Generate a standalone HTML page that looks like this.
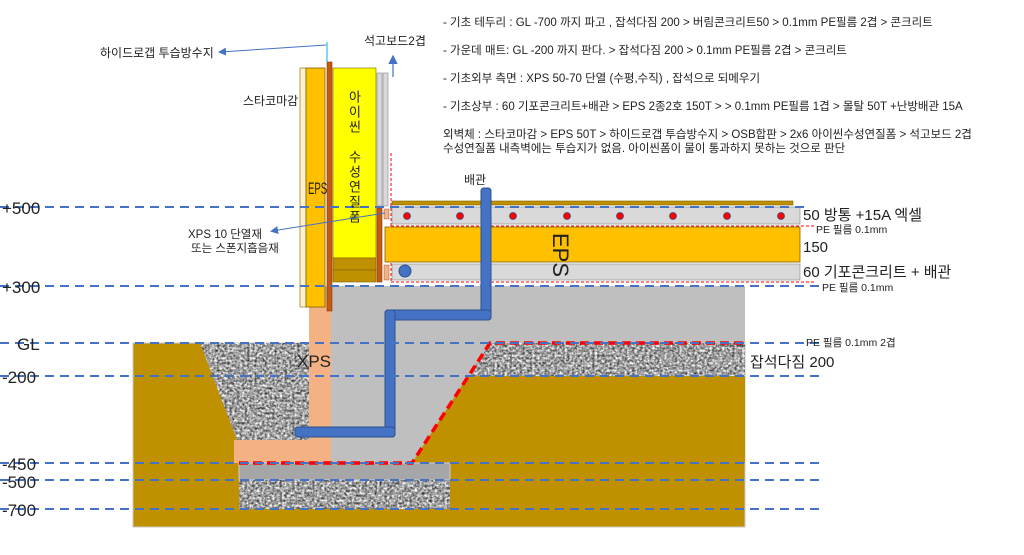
<!DOCTYPE html>
<html><head><meta charset="utf-8"><style>
html,body{margin:0;padding:0;background:#fff;width:1024px;height:555px;overflow:hidden}
text{font-family:"Liberation Sans","Noto Sans CJK KR",sans-serif;fill:#222}
</style></head><body>
<svg width="1024" height="555" viewBox="0 0 1024 555" xmlns="http://www.w3.org/2000/svg">
<defs>
<filter id="grv" x="0" y="0" width="100%" height="100%" color-interpolation-filters="sRGB">
<feTurbulence type="fractalNoise" baseFrequency="0.4" numOctaves="3" seed="3" result="n"/>
<feColorMatrix in="n" type="saturate" values="0" result="g"/>
<feComponentTransfer in="g" result="c">
<feFuncR type="linear" slope="1.7" intercept="-0.22"/>
<feFuncG type="linear" slope="1.7" intercept="-0.22"/>
<feFuncB type="linear" slope="1.7" intercept="-0.22"/>
<feFuncA type="linear" slope="0" intercept="1"/>
</feComponentTransfer>
<feComposite in="c" in2="SourceGraphic" operator="in"/>
</filter>
<marker id="ar" markerWidth="8" markerHeight="8" refX="6" refY="4" orient="auto"><path d="M0,0 L8,4 L0,8 z" fill="#4472c4"/></marker>
</defs>

<rect x="133" y="343" width="612" height="184" fill="#bf9000" stroke="#c9c9c9"/>
<rect x="320" y="286" width="425" height="177" fill="#bfbfbf"/>
<polygon points="468,376 745,376 745,463 412,463" fill="#bf9000"/>
<polygon points="490,343 745,343 745,376 468,376" fill="#fff" filter="url(#grv)"/>
<polygon points="200,343 309,343 309,440 237,440" fill="#fff" filter="url(#grv)"/>
<rect x="309" y="300" width="22" height="163" fill="#f4b183"/>
<rect x="234" y="440" width="76" height="23" fill="#f4b183"/>
<rect x="239" y="463" width="211" height="17" fill="#a6a6a6" stroke="#ccc"/>
<rect x="239" y="480" width="211" height="29" fill="#fff" filter="url(#grv)"/>
<polyline points="239,463 412,463 490,343 745,343" fill="none" stroke="#ff0000" stroke-width="3.5" stroke-dasharray="9,5"/>

<g fill="#4472c4" stroke="#2f528f" stroke-width="1">
<rect x="481" y="188" width="10" height="132" rx="3"/>
<rect x="385" y="310" width="106" height="10" rx="3"/>
<rect x="385" y="310" width="10" height="127" rx="3"/>
<rect x="295" y="427" width="100" height="10" rx="3"/>
</g>

<rect x="300" y="68" width="6" height="239" fill="#fff2cc" stroke="#7f6000" stroke-width="0.6"/>
<rect x="306" y="68" width="19" height="239" fill="#ffc000" stroke="#7f6000" stroke-width="0.8"/>
<rect x="327" y="62" width="5" height="249" fill="#c55a11" stroke="#843c0c" stroke-width="0.6"/>
<line x1="327" y1="42" x2="327" y2="62" stroke="#00b0f0" stroke-width="1"/>
<rect x="333" y="68" width="43" height="190" fill="#ffff00" stroke="#7f6000" stroke-width="0.6"/>
<rect x="333" y="258" width="43" height="12" fill="#bf9000" stroke="#7f6000" stroke-width="0.6"/>
<rect x="333" y="270" width="43" height="12" fill="#bf9000" stroke="#7f6000" stroke-width="0.6"/>
<rect x="377" y="73" width="5" height="133" fill="#d9d9d9" stroke="#888" stroke-width="0.6"/>
<rect x="383" y="73" width="5" height="133" fill="#d9d9d9" stroke="#888" stroke-width="0.6"/>
<rect x="377" y="208" width="5" height="74" fill="#c55a11" stroke="#843c0c" stroke-width="0.6"/>
<rect x="384" y="209" width="5" height="10" fill="#f4b183" stroke="#843c0c" stroke-width="0.4"/>
<rect x="384" y="265" width="5" height="15" fill="#f4b183" stroke="#843c0c" stroke-width="0.4"/>
<line x1="391" y1="153" x2="391" y2="282" stroke="#ff0000" stroke-width="1" stroke-dasharray="3,2"/>

<rect x="392" y="201" width="401" height="4" fill="#bf9000" stroke="#7f6000" stroke-width="0.6"/>
<rect x="392" y="207" width="408" height="17" fill="#d9d9d9" stroke="#888" stroke-width="0.6"/>
<g fill="#ff0000" stroke="#2f528f" stroke-width="0.8">
<circle cx="407" cy="216" r="3.5"/><circle cx="460" cy="216" r="3.5"/><circle cx="513" cy="216" r="3.5"/><circle cx="567" cy="216" r="3.5"/><circle cx="620" cy="216" r="3.5"/><circle cx="673" cy="216" r="3.5"/><circle cx="727" cy="216" r="3.5"/><circle cx="781" cy="216" r="3.5"/>
</g>
<line x1="391" y1="226" x2="815" y2="226" stroke="#ff0000" stroke-width="1" stroke-dasharray="3,2"/>
<rect x="385" y="227" width="415" height="35" fill="#ffc000" stroke="#7f6000" stroke-width="0.8"/>
<rect x="392" y="264" width="408" height="16" fill="#d9d9d9" stroke="#888" stroke-width="0.6"/>
<circle cx="405" cy="271" r="6" fill="#4472c4" stroke="#2f528f"/>
<line x1="391" y1="282" x2="815" y2="282" stroke="#ff0000" stroke-width="1" stroke-dasharray="3,2"/>
<rect x="481" y="188" width="10" height="98" rx="3" fill="#4472c4" stroke="#2f528f"/>

<g stroke="#4472c4" stroke-width="2" stroke-dasharray="9,6" fill="none">
<line x1="0" y1="207" x2="805" y2="207"/>
<line x1="0" y1="286" x2="820" y2="286"/>
<line x1="0" y1="343" x2="820" y2="343"/>
<line x1="0" y1="376" x2="820" y2="376"/>
<line x1="0" y1="463" x2="820" y2="463"/>
<line x1="0" y1="480" x2="820" y2="480"/>
<line x1="0" y1="509" x2="820" y2="509"/>
</g>

<g font-size="17">
<text x="2" y="214">+500</text>
<text x="2" y="293">+300</text>
<text x="17" y="350">GL</text>
<text x="2" y="383">-200</text>
<text x="2" y="470">-450</text>
<text x="2" y="488">-500</text>
<text x="2" y="516">-700</text>
</g>

<line x1="326" y1="45" x2="220" y2="52" stroke="#4472c4" stroke-width="1" marker-end="url(#ar)"/>
<text x="100" y="57" font-size="12">하이드로갭 투습방수지</text>
<text x="364" y="45" font-size="12">석고보드2겹</text>
<line x1="393" y1="77" x2="393" y2="57" stroke="#4472c4" stroke-width="1.2" marker-end="url(#ar)"/>
<text x="243" y="105" font-size="12">스타코마감</text>
<text x="308" y="194" font-size="12" transform="translate(308,194) scale(0.8,1.4) translate(-308,-194)">EPS</text>
<text font-size="13" x="354" y="90" style="writing-mode:vertical-rl" letter-spacing="2">아이씬</text>
<text font-size="13" x="354" y="150" style="writing-mode:vertical-rl" letter-spacing="2">수성연질폼</text>
<line x1="385" y1="213" x2="272" y2="231" stroke="#4472c4" stroke-width="1" marker-end="url(#ar)"/>
<text x="188" y="238" font-size="11.5">XPS 10 단열재</text>
<text x="191" y="252" font-size="11.5">또는 스폰지흡음재</text>
<text x="464" y="184" font-size="12">배관</text>
<text x="0" y="0" font-size="22" transform="translate(553,233) rotate(90)" fill="#333">EPS</text>
<text x="297" y="367" font-size="17" fill="#111">XPS</text>

<text x="803" y="220" font-size="15">50 방통 +15A 엑셀</text>
<text x="816" y="233" font-size="10.5">PE 필름 0.1mm</text>
<text x="803" y="252" font-size="15">150</text>
<text x="803" y="277" font-size="15">60 기포콘크리트 + 배관</text>
<text x="822" y="291" font-size="10.5">PE 필름 0.1mm</text>
<text x="806" y="346" font-size="10.5">PE 필름 0.1mm 2겹</text>
<text x="750" y="367" font-size="15">잡석다짐 200</text>

<g font-size="11.5">
<text x="443" y="26">- 기초 테두리 : GL -700 까지 파고 , 잡석다짐 200 &gt; 버림콘크리트50 &gt; 0.1mm PE필름 2겹 &gt; 콘크리트</text>
<text x="443" y="54">- 가운데 매트: GL -200 까지 판다. &gt; 잡석다짐 200 &gt; 0.1mm PE필름 2겹 &gt; 콘크리트</text>
<text x="443" y="82">- 기초외부 측면 : XPS 50-70 단열 (수평,수직) , 잡석으로 되메우기</text>
<text x="443" y="110">- 기초상부 : 60 기포콘크리트+배관 &gt; EPS 2종2호 150T &gt; &gt; 0.1mm PE필름 1겹 &gt; 몰탈 50T +난방배관 15A</text>
<text x="443" y="138">외벽체 : 스타코마감 &gt; EPS 50T &gt; 하이드로갭 투습방수지 &gt; OSB합판 &gt; 2x6 아이씬수성연질폼 &gt; 석고보드 2겹</text>
<text x="443" y="152">수성연질폼 내측벽에는 투습지가 없음. 아이씬폼이 물이 통과하지 못하는 것으로 판단</text>
</g>
</svg>
</body></html>
